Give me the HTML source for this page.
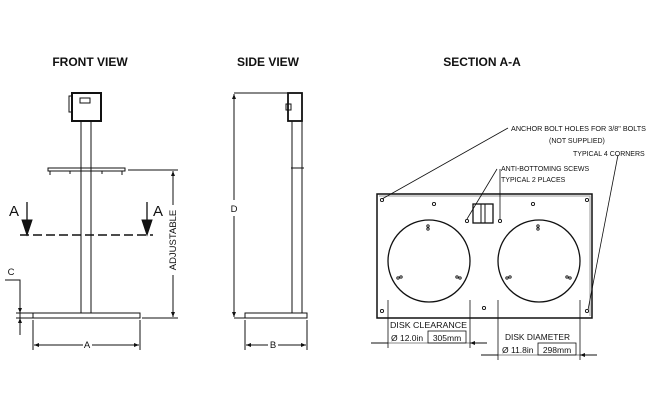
<!DOCTYPE html>
<html><head><style>body{margin:0;background:#fff}svg{display:block}text{font-family:"Liberation Sans",sans-serif;fill:#111}</style></head><body>
<svg width="650" height="414" viewBox="0 0 650 414" xmlns="http://www.w3.org/2000/svg">
<defs><marker id="ar" viewBox="0 0 10 10" refX="10" refY="5" markerWidth="7" markerHeight="5" orient="auto-start-reverse"><path d="M0,1L10,5L0,9z" fill="#111"/></marker></defs>
<g font-weight="bold" font-size="12" text-anchor="middle">
<text x="90" y="66">FRONT VIEW</text><text x="268" y="66">SIDE VIEW</text><text x="482" y="66">SECTION A-A</text></g>
<g stroke="#111" fill="none" stroke-width="1">
<rect x="72" y="93" width="29" height="28" stroke-width="2" fill="#fff"/>
<rect x="80" y="98" width="10" height="5"/>
<rect x="69" y="96" width="3" height="16" stroke-width="1"/>
<rect x="81" y="121" width="10" height="192"/>
<path d="M48,168H125V171H48z"/><path d="M50,171v4M70,171v3M102,171v3M122,171v4"/>
<rect x="33" y="313" width="107" height="5"/>
<path d="M20,235H153" stroke-dasharray="9,4" stroke-width="1.5"/>
<path d="M27,202V230M147,202V230" stroke-width="1.3"/>
<path d="M22,220L27,235L32,220zM142,220L147,235L152,220z" fill="#111"/>
<path d="M33,320V350M140,320V350"/>
<path d="M34,345H83M92,345H139" marker-start="url(#ar)" marker-end="url(#ar)"/>
<path d="M128,170H178M142,318H178"/>
<path d="M173,205V171" marker-end="url(#ar)"/><path d="M173,275V317" marker-end="url(#ar)"/>
<path d="M5,280H20V335"/><path d="M20,300V313" marker-end="url(#ar)"/><path d="M20,330V318" marker-end="url(#ar)"/>
<path d="M16,313H33M16,318H33"/>
<path d="M234,93H290M234,318H245"/>
<path d="M234,200V94" marker-end="url(#ar)"/><path d="M234,216V317" marker-end="url(#ar)"/>
<rect x="288" y="93" width="14" height="28" stroke-width="1.8"/>
<rect x="286" y="104" width="5" height="6"/>
<rect x="292" y="121" width="10" height="192"/>
<path d="M291,168H304"/>
<rect x="245" y="313" width="62" height="5"/>
<path d="M245,320V350M307,320V350"/>
<path d="M246,345H268M278,345H306" marker-start="url(#ar)" marker-end="url(#ar)"/>
<rect x="377" y="194" width="215" height="124" stroke-width="1.5"/>
<path d="M379,196H590V316" stroke="#999"/>
<circle cx="429" cy="261" r="41" stroke-width="1.3"/>
<circle cx="539" cy="261" r="41" stroke-width="1.3"/>
<rect x="473" y="204" width="20" height="19" stroke-width="1.3"/><path d="M481,204V223M485,204V223"/>
<g fill="none" stroke-width="0.9">
<circle cx="382" cy="200" r="1.6"/><circle cx="434" cy="204" r="1.6"/><circle cx="533" cy="204" r="1.6"/><circle cx="587" cy="200" r="1.6"/>
<circle cx="382" cy="311" r="1.6"/><circle cx="484" cy="308" r="1.6"/><circle cx="587" cy="311" r="1.6"/>
<circle cx="467" cy="221" r="1.6"/><circle cx="500" cy="221" r="1.6"/>
<circle cx="428" cy="226" r="1.2"/><circle cx="428" cy="229" r="1.2"/><circle cx="538" cy="226" r="1.2"/><circle cx="538" cy="229" r="1.2"/>
<circle cx="398" cy="278" r="1.2"/><circle cx="401" cy="277" r="1.2"/><circle cx="457" cy="277" r="1.2"/><circle cx="460" cy="278" r="1.2"/>
<circle cx="507" cy="278" r="1.2"/><circle cx="510" cy="277" r="1.2"/><circle cx="567" cy="277" r="1.2"/><circle cx="570" cy="278" r="1.2"/>
</g>
<path d="M382,199L508,128M467,219L497,169M500,219V169M588,310L618,155" stroke-width="0.8"/>
<path d="M388,300V348M470,300V348M498,300V360M580,300V360" stroke-width="0.8"/>
<path d="M371,343H388M487,343H470" marker-end="url(#ar)"/>
<path d="M481,355H498M597,355H580" marker-end="url(#ar)"/>
<path d="M388,343H470M498,355H580" stroke-width="0.6"/>
<rect x="428" y="331" width="38" height="12" stroke-width="0.8"/>
<rect x="538" y="343" width="38" height="12" stroke-width="0.8"/>
</g>
<g font-size="9.5" text-anchor="middle">
<text x="11" y="275">C</text><text x="87" y="348">A</text><text x="273" y="348">B</text><text x="234" y="212">D</text>
<text x="14" y="216" font-size="15">A</text><text x="158" y="216" font-size="15">A</text>
<text transform="translate(176,240) rotate(-90)" font-size="9.5">ADJUSTABLE</text>
</g>
<g font-size="7">
<text x="511" y="131" textLength="135" lengthAdjust="spacingAndGlyphs">ANCHOR BOLT HOLES FOR 3/8" BOLTS</text>
<text x="549" y="143">(NOT SUPPLIED)</text>
<text x="573" y="156">TYPICAL 4 CORNERS</text>
<text x="501" y="171">ANTI-BOTTOMING SCEWS</text>
<text x="501" y="182">TYPICAL 2 PLACES</text>
<text x="390" y="328" font-size="8.5" textLength="77" lengthAdjust="spacingAndGlyphs">DISK CLEARANCE</text>
<text x="391" y="341" font-size="8.5">Ø 12.0in</text><text x="447" y="341" font-size="8.5" text-anchor="middle">305mm</text>
<text x="505" y="340" font-size="8.5" textLength="65" lengthAdjust="spacingAndGlyphs">DISK DIAMETER</text>
<text x="502" y="353" font-size="8.5">Ø 11.8in</text><text x="557" y="353" font-size="8.5" text-anchor="middle">298mm</text>
</g>
</svg>
</body></html>
